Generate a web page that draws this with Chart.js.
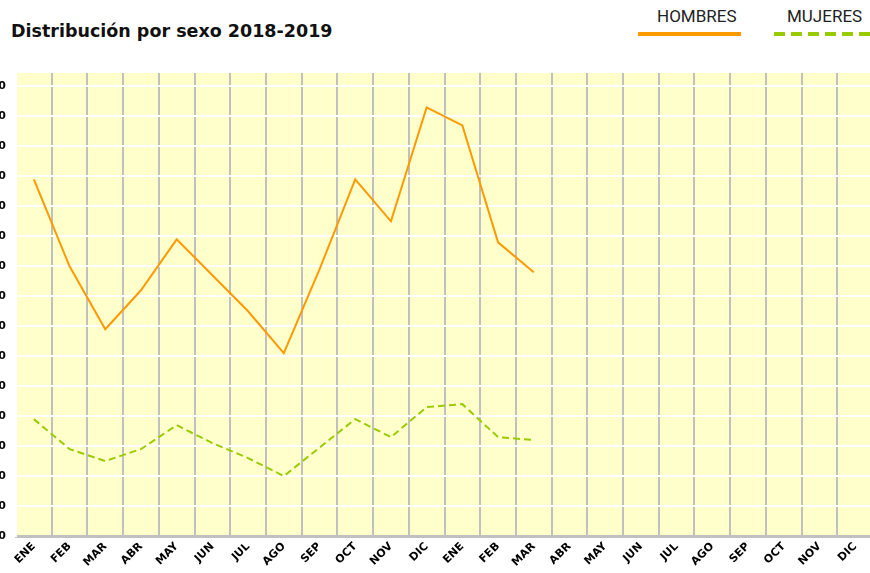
<!DOCTYPE html>
<html lang="es">
<head>
    <meta charset="UTF-8">
    <meta name="viewport" content="width=device-width,initial-scale=1">
    <title>Distribución por sexo 2018-2019</title>
    <script src="https://cdn.jsdelivr.net/npm/chart.js@4.4.0/dist/chart.umd.min.js"></script>
    <style>
      html, body { margin: 0; padding: 0; background: #fff; overflow: hidden; }
      body { width: 870px; height: 573px; position: relative; }
      #title {
        position: absolute; left: 11px; top: 21px; line-height: 22px;
        font: bold 17.5px "DejaVu Sans", sans-serif; color: #111;
      }
      .leg-text {
        position: absolute; top: 6px; line-height: 20px;
        font: 17px Roboto, sans-serif; color: #222;
      }
      .leg-line { position: absolute; top: 32px; height: 4px; }
      #wrap { position: absolute; left: -24px; top: 0; width: 897px; height: 573px; }
    </style>
</head>
<body>
  <div id="title">Distribución por sexo 2018-2019</div>

  <!-- Legend drawn as plain html above the chart. -->
  <div class="leg-text" style="left:657px">HOMBRES</div>
  <div class="leg-line" style="left:638px;width:103px;background:#ff9900"></div>
  <div class="leg-text" style="left:787px">MUJERES</div>
  <div class="leg-line" style="left:774px;width:100px;background:repeating-linear-gradient(90deg,#99cc00 0 11px,transparent 11px 17px)"></div>

  <div id="wrap"><canvas id="chart" width="897" height="573"></canvas></div>

  <script>
    /* Months, two years. */
    const categories = ["ENE", "FEB", "MAR", "ABR", "MAY", "JUN", "JUL", "AGO", "SEP", "OCT", "NOV", "DIC",
                        "ENE", "FEB", "MAR", "ABR", "MAY", "JUN", "JUL", "AGO", "SEP", "OCT", "NOV", "DIC"]

    /* Series values. */
    const hombres = [119, 90, 69, 82, 99, 87, 75, 61, 89, 119, 105, 143, 137, 98, 88]
    const mujeres = [39, 29, 25, 29, 37, 31, 26, 20, 29.5, 39, 33, 43, 44, 33, 32]

    /* Y tick labels (mostly cut off at the left edge). */
    const yTicks = [0, 10, 20, 30, 40, 50, 60, 70, 80, 90, 100, 110, 120, 130, 140, 150]

    /* Paint the yellow plot background. */
    const plotBackground = {
      id: "plotBackground",
      beforeDraw(chart) {
        const { ctx, chartArea } = chart
        ctx.save()
        ctx.fillStyle = "#ffffcc"
        ctx.fillRect(chartArea.left, chartArea.top, chartArea.width, chartArea.height)
        ctx.restore()
      }
    }

    Chart.defaults.font.family = "'DejaVu Sans', sans-serif"
    Chart.defaults.font.weight = "bold"
    Chart.defaults.color = "#000"

    const ctx = document.getElementById("chart").getContext("2d")

    const myChart = new Chart(ctx, {
      type: "line",
      data: {
        labels: categories,
        datasets: [{
          label: "HOMBRES",
          data: hombres,
          borderColor: "#ff9900",
          borderWidth: 2,
          pointRadius: 0,
          tension: 0,
          fill: false,
        }, {
          label: "MUJERES",
          data: mujeres,
          borderColor: "#99cc00",
          borderWidth: 2,
          borderDash: [7, 4],
          pointRadius: 0,
          tension: 0,
          fill: false,
        }]
      },
      plugins: [plotBackground],
      options: {
        responsive: false,
        animation: false,
        layout: { padding: { top: 73, left: 0, right: 0, bottom: 0 } },
        plugins: {
          legend: { display: false },
          tooltip: { enabled: false }
        },
        scales: {
          x: {
            offset: true,
            afterFit: function(scale) { scale.height = 37 },
            grid: {
              offset: true,
              drawTicks: false,
              lineWidth: 2,
              /* No gray line on the left edge of the plot. */
              color: function(c) { return c.index === 0 ? "rgba(0,0,0,0)" : "#c0c0c0" }
            },
            border: { color: "#c0c0c0", width: 3 },
            ticks: {
              autoSkip: false,
              minRotation: 45,
              maxRotation: 45,
              padding: 4,
              font: { size: 11, weight: "bold" }
            }
          },
          y: {
            min: 0,
            max: 154.5,
            afterFit: function(scale) { scale.width = 40 },
            afterBuildTicks: function(scale) {
              scale.ticks = yTicks.map(v => ({ value: v }))
            },
            grid: { color: "#ffffff", lineWidth: 2, drawTicks: false },
            border: { color: "#ffffff", width: 2 },
            ticks: {
              padding: 10,
              font: { size: 11, weight: "bold" }
            }
          }
        }
      }
    })
  </script>
</body>
</html>
